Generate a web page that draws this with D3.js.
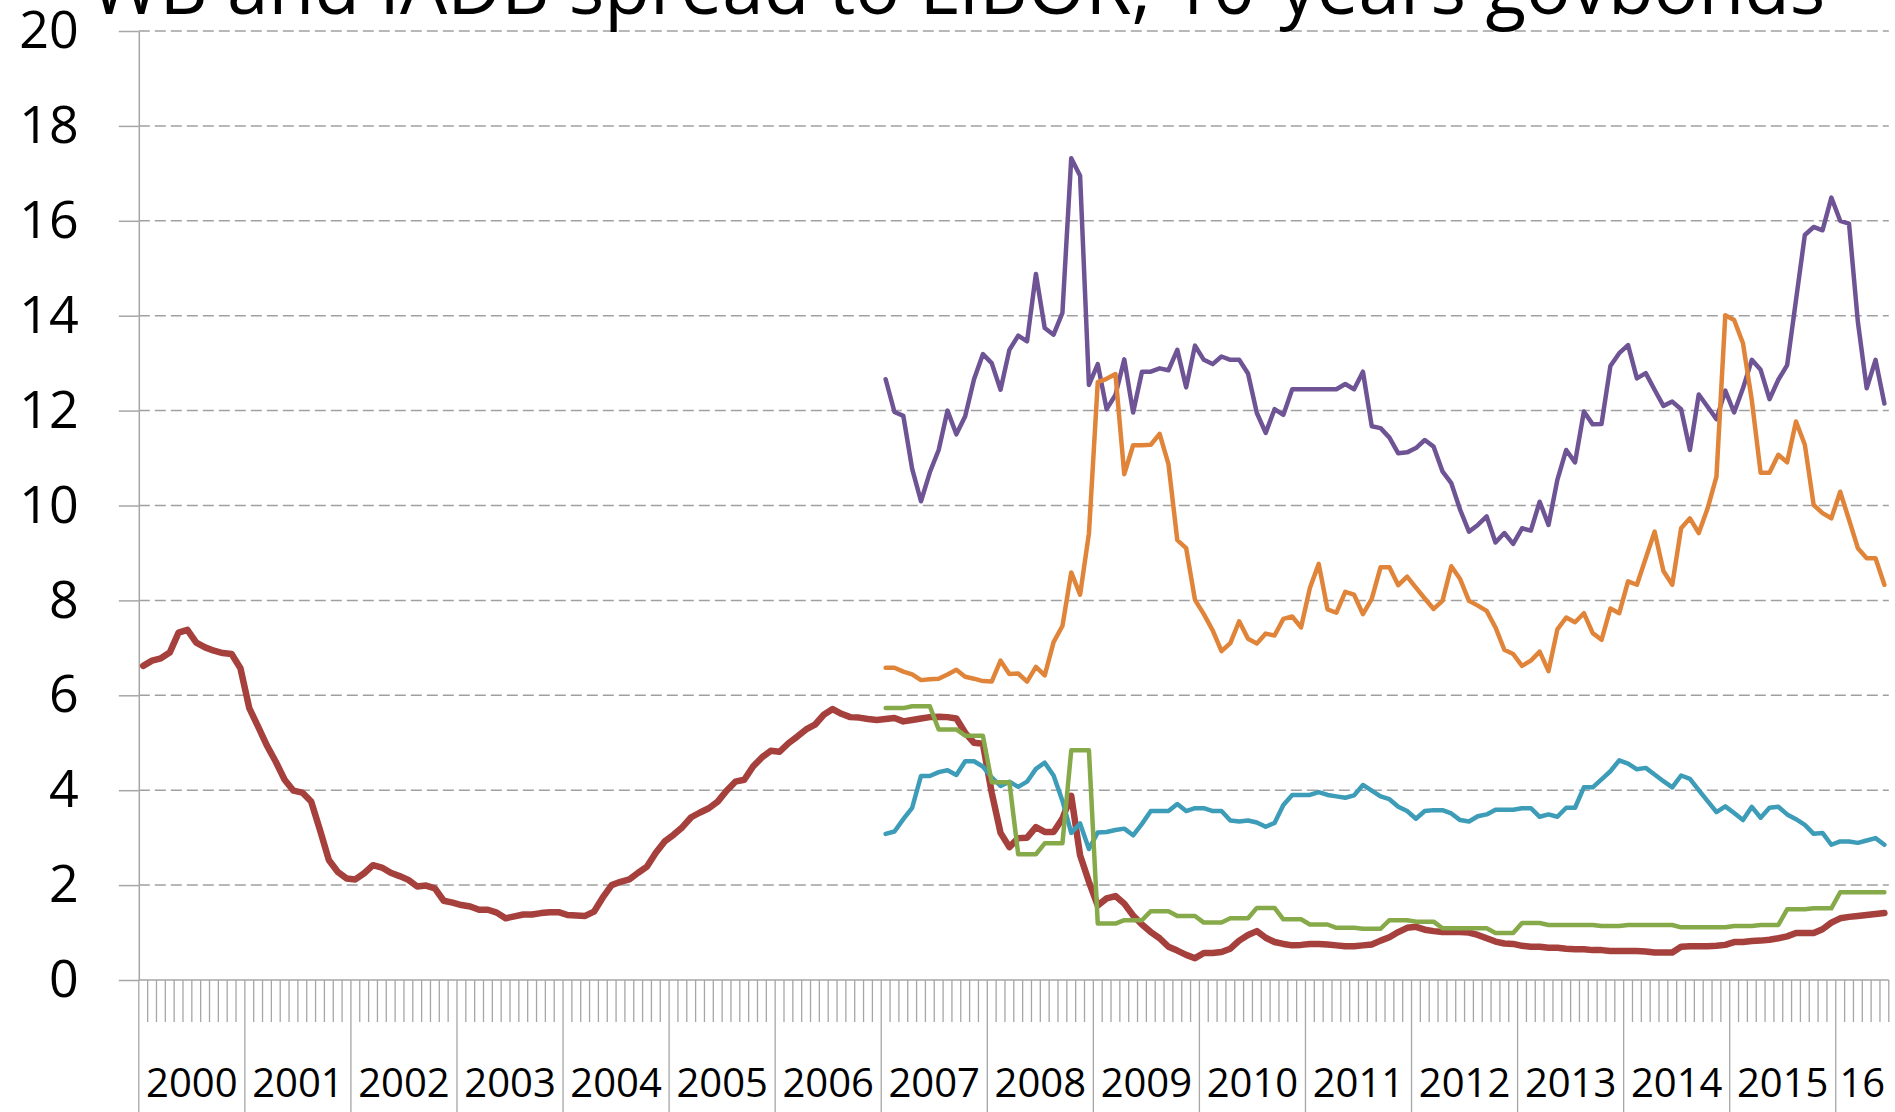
<!DOCTYPE html>
<html>
<head>
<meta charset="utf-8">
<script src="https://cdn.jsdelivr.net/npm/d3@7"></script>
<style>
  html, body { margin: 0; padding: 0; background: #fff; }
  svg { display: block; font-family: "Open Sans", sans-serif; }
</style>
</head>
<body>
<div id="chart"></div>
<script>
const title = "WB and IADB spread to LIBOR, 10-years govbonds";
const yTicks = [0, 2, 4, 6, 8, 10, 12, 14, 16, 18, 20];
const yearLabels = ["2000", "2001", "2002", "2003", "2004", "2005", "2006", "2007", "2008",
  "2009", "2010", "2011", "2012", "2013", "2014", "2015", "16"];

// monthly, Jan 2000 - Jun 2016
const redSeries = [
  6.62, 6.73, 6.78, 6.90, 7.32, 7.38, 7.11, 7.01, 6.94, 6.89, 6.87, 6.57,
  5.73, 5.34, 4.94, 4.60, 4.22, 3.99, 3.95, 3.76, 3.16, 2.53, 2.28, 2.14,
  2.12, 2.25, 2.42, 2.37, 2.26, 2.19, 2.11, 1.97, 1.99, 1.93, 1.67, 1.63,
  1.58, 1.55, 1.48, 1.48, 1.42, 1.30, 1.34, 1.38, 1.38, 1.41, 1.43, 1.43,
  1.37, 1.36, 1.35, 1.44, 1.74, 2.00, 2.07, 2.12, 2.26, 2.39, 2.68, 2.92,
  3.06, 3.22, 3.43, 3.53, 3.62, 3.76, 3.99, 4.18, 4.22, 4.50, 4.69, 4.83,
  4.81, 4.99, 5.13, 5.28, 5.38, 5.59, 5.71, 5.61, 5.54, 5.53, 5.50, 5.48,
  5.50, 5.52, 5.45, 5.48, 5.51, 5.54, 5.55, 5.54, 5.51, 5.21, 5.00, 4.98,
  3.95, 3.10, 2.80, 2.99, 3.00, 3.22, 3.12, 3.12, 3.40, 3.88, 2.63, 2.07,
  1.57, 1.72, 1.77, 1.61, 1.36, 1.17, 1.01, 0.88, 0.70, 0.62, 0.53, 0.46,
  0.57, 0.57, 0.59, 0.66, 0.83, 0.95, 1.03, 0.89, 0.80, 0.76, 0.73, 0.74,
  0.76, 0.76, 0.75, 0.73, 0.71, 0.71, 0.73, 0.75, 0.83, 0.90, 1.01, 1.10,
  1.12, 1.06, 1.03, 1.01, 1.01, 1.01, 1.00, 0.95, 0.88, 0.81, 0.77, 0.76,
  0.72, 0.70, 0.70, 0.68, 0.68, 0.66, 0.65, 0.65, 0.63, 0.63, 0.61, 0.61,
  0.61, 0.61, 0.60, 0.58, 0.58, 0.58, 0.70, 0.71, 0.71, 0.71, 0.72, 0.74,
  0.80, 0.80, 0.82, 0.83, 0.85, 0.88, 0.92, 0.99, 0.99, 0.99, 1.07, 1.21,
  1.30, 1.33, 1.35, 1.37, 1.39, 1.41
];

// monthly, Jan 2007 - Jun 2016
const purpleSeries = [
  12.66, 11.97, 11.89, 10.77, 10.09, 10.70, 11.17, 12.00, 11.50, 11.88, 12.66, 13.19,
  13.00, 12.44, 13.28, 13.58, 13.46, 14.88, 13.74, 13.60, 14.06, 17.32, 16.95, 12.54,
  12.98, 12.03, 12.33, 13.08, 11.96, 12.82, 12.82, 12.89, 12.85, 13.28, 12.49, 13.37,
  13.07, 12.98, 13.14, 13.07, 13.07, 12.78, 11.95, 11.53, 12.03, 11.91, 12.45, 12.45,
  12.45, 12.45, 12.45, 12.45, 12.56, 12.45, 12.82, 11.67, 11.63, 11.43, 11.10, 11.12,
  11.21, 11.38, 11.24, 10.72, 10.47, 9.91, 9.45, 9.59, 9.77, 9.22, 9.42, 9.19,
  9.52, 9.47, 10.08, 9.59, 10.54, 11.17, 10.91, 11.98, 11.71, 11.72, 12.94, 13.21,
  13.38, 12.68, 12.79, 12.44, 12.10, 12.19, 12.03, 11.17, 12.34, 12.08, 11.82, 12.42,
  11.96, 12.47, 13.07, 12.86, 12.24, 12.65, 12.96, 14.33, 15.70, 15.87, 15.80, 16.49,
  16.00, 15.94, 13.87, 12.47, 13.07, 12.15
];

const orangeSeries = [
  6.58, 6.58, 6.50, 6.44, 6.32, 6.34, 6.35, 6.44, 6.54, 6.39, 6.35, 6.30,
  6.29, 6.73, 6.45, 6.46, 6.29, 6.60, 6.42, 7.12, 7.46, 8.59, 8.12, 9.41,
  12.60, 12.67, 12.77, 10.66, 11.27, 11.27, 11.28, 11.51, 10.87, 9.27, 9.10, 8.01,
  7.71, 7.37, 6.93, 7.10, 7.56, 7.19, 7.09, 7.30, 7.26, 7.61, 7.66, 7.43,
  8.26, 8.77, 7.81, 7.74, 8.18, 8.12, 7.71, 8.03, 8.70, 8.70, 8.32, 8.50,
  8.27, 8.04, 7.82, 7.99, 8.72, 8.45, 7.99, 7.89, 7.78, 7.43, 6.96, 6.87,
  6.62, 6.73, 6.92, 6.51, 7.39, 7.64, 7.54, 7.73, 7.31, 7.17, 7.83, 7.73,
  8.40, 8.33, 8.89, 9.45, 8.62, 8.33, 9.52, 9.73, 9.42, 9.94, 10.61, 14.01,
  13.91, 13.42, 12.22, 10.69, 10.69, 11.07, 10.91, 11.77, 11.28, 10.01, 9.84, 9.73,
  10.29, 9.70, 9.10, 8.89, 8.89, 8.33
];

const tealSeries = [
  3.08, 3.13, 3.39, 3.63, 4.30, 4.30, 4.38, 4.42, 4.32, 4.61, 4.61, 4.50,
  4.27, 4.09, 4.18, 4.07, 4.18, 4.45, 4.58, 4.31, 3.78, 3.10, 3.30, 2.76,
  3.11, 3.12, 3.16, 3.19, 3.05, 3.29, 3.56, 3.56, 3.56, 3.71, 3.56, 3.62,
  3.62, 3.56, 3.56, 3.36, 3.34, 3.36, 3.32, 3.23, 3.31, 3.69, 3.90, 3.90,
  3.90, 3.96, 3.90, 3.87, 3.84, 3.89, 4.11, 3.99, 3.87, 3.81, 3.65, 3.56,
  3.40, 3.56, 3.58, 3.58, 3.51, 3.37, 3.34, 3.45, 3.49, 3.59, 3.59, 3.59,
  3.62, 3.62, 3.44, 3.49, 3.44, 3.63, 3.63, 4.06, 4.06, 4.23, 4.40, 4.63,
  4.56, 4.44, 4.47, 4.33, 4.19, 4.06, 4.31, 4.24, 4.00, 3.77, 3.54, 3.66,
  3.52, 3.37, 3.65, 3.42, 3.63, 3.65, 3.49, 3.39, 3.27, 3.08, 3.10, 2.85,
  2.92, 2.92, 2.89, 2.94, 2.99, 2.85
];

const greenSeries = [
  5.73, 5.73, 5.73, 5.77, 5.77, 5.77, 5.28, 5.28, 5.28, 5.15, 5.15, 5.15,
  4.17, 4.17, 4.17, 2.65, 2.65, 2.65, 2.88, 2.88, 2.88, 4.84, 4.84, 4.84,
  1.19, 1.19, 1.19, 1.26, 1.26, 1.26, 1.45, 1.45, 1.45, 1.35, 1.35, 1.35,
  1.21, 1.21, 1.21, 1.30, 1.30, 1.30, 1.52, 1.52, 1.52, 1.28, 1.28, 1.28,
  1.17, 1.17, 1.17, 1.10, 1.10, 1.10, 1.08, 1.08, 1.08, 1.26, 1.26, 1.26,
  1.23, 1.23, 1.23, 1.09, 1.09, 1.09, 1.09, 1.09, 1.09, 0.99, 0.99, 0.99,
  1.20, 1.20, 1.20, 1.16, 1.16, 1.16, 1.16, 1.16, 1.16, 1.14, 1.14, 1.14,
  1.16, 1.16, 1.16, 1.16, 1.16, 1.16, 1.11, 1.11, 1.11, 1.11, 1.11, 1.11,
  1.14, 1.14, 1.14, 1.16, 1.16, 1.16, 1.49, 1.49, 1.49, 1.51, 1.51, 1.51,
  1.85, 1.85, 1.85, 1.85, 1.85, 1.85
];

const W = 1895, H = 1112;
const plot = { left: 138.8, right: 1888.8, top: 31, bottom: 980 };
const gridColor = "#a0a0a0";
const axisColor = "#a6a6a6";

const months = d3.utcMonths(Date.UTC(2000, 0, 1), Date.UTC(2016, 6, 1));
const lateStart = months.findIndex(d => +d === Date.UTC(2007, 0, 1));

const svg = d3.select("#chart").append("svg")
    .attr("width", W)
    .attr("height", H);

const x = d3.scaleBand()
    .domain(months.map(d => +d))
    .range([plot.left, plot.right])
    .padding(0);
const xMid = d => x(+d) + x.bandwidth() / 2;

const y = d3.scaleLinear()
    .domain([0, 20])
    .range([plot.bottom, plot.top]);

// dashed gridlines
svg.append("g")
    .selectAll("line")
    .data(yTicks.filter(d => d > 0))
    .join("line")
    .attr("x1", plot.left)
    .attr("x2", plot.right)
    .attr("y1", d => y(d))
    .attr("y2", d => y(d))
    .attr("stroke", gridColor)
    .attr("stroke-width", 1.5)
    .attr("stroke-dasharray", "11,5");

// y axis
const yAxis = svg.append("g")
    .attr("transform", `translate(${plot.left},0)`)
    .call(d3.axisLeft(y).tickValues(yTicks).tickSize(20).tickSizeOuter(0).tickPadding(40))
    .attr("font-family", null)
    .attr("font-size", null);
yAxis.select(".domain").attr("stroke", axisColor).attr("stroke-width", 1.5);
yAxis.selectAll(".tick line").attr("stroke", axisColor).attr("stroke-width", 1.5);
yAxis.selectAll(".tick text").attr("font-size", 52).attr("fill", "#000");

// x axis: line, month ticks, longer year ticks
const xAxis = svg.append("g");
xAxis.append("line")
    .attr("x1", plot.left)
    .attr("x2", plot.right)
    .attr("y1", plot.bottom)
    .attr("y2", plot.bottom)
    .attr("stroke", axisColor)
    .attr("stroke-width", 1.5);

xAxis.selectAll(".mtick")
    .data(months)
    .join("line")
    .attr("class", "mtick")
    .attr("x1", d => x(+d))
    .attr("x2", d => x(+d))
    .attr("y1", plot.bottom)
    .attr("y2", d => d.getUTCMonth() === 0 ? H : plot.bottom + 42)
    .attr("stroke", axisColor)
    .attr("stroke-width", 1.3);

xAxis.append("line")
    .attr("x1", plot.right)
    .attr("x2", plot.right)
    .attr("y1", plot.bottom)
    .attr("y2", plot.bottom + 42)
    .attr("stroke", axisColor)
    .attr("stroke-width", 1.3);

xAxis.selectAll(".ylabel")
    .data(yearLabels)
    .join("text")
    .attr("class", "ylabel")
    .attr("x", (d, i) => {
        const inYear = months.filter(m => m.getUTCFullYear() === 2000 + i);
        const first = inYear[0], last = inYear[inYear.length - 1];
        return (x(+first) + x(+last) + x.bandwidth()) / 2;
    })
    .attr("y", 1083)
    .attr("dy", "0.36em")
    .attr("text-anchor", "middle")
    .attr("font-size", 40)
    .attr("fill", "#000")
    .text(d => d);

// series lines
const series = [
    { values: redSeries, start: 0, color: "#a5403c", width: 6.5 },
    { values: purpleSeries, start: lateStart, color: "#6e5494", width: 4.5 },
    { values: orangeSeries, start: lateStart, color: "#e0843a", width: 4.5 },
    { values: tealSeries, start: lateStart, color: "#3d9cb8", width: 4.5 },
    { values: greenSeries, start: lateStart, color: "#86a94a", width: 4.5 }
];

svg.append("g")
    .selectAll("path")
    .data(series)
    .join("path")
    .attr("fill", "none")
    .attr("stroke", d => d.color)
    .attr("stroke-width", d => d.width)
    .attr("stroke-linejoin", "round")
    .attr("stroke-linecap", "round")
    .attr("d", s => d3.line()
        .x((v, i) => xMid(months[s.start + i]))
        .y(v => y(v))(s.values));

// title, clipped at the top edge like the original
const titleText = svg.append("text")
    .attr("x", 958)
    .attr("y", 14)
    .attr("text-anchor", "middle")
    .attr("font-size", 70)
    .attr("fill", "#000")
    .text(title);
const len = titleText.node().getComputedTextLength();
titleText.attr("font-size", 70 * 1735 / len);
</script>
</body>
</html>
